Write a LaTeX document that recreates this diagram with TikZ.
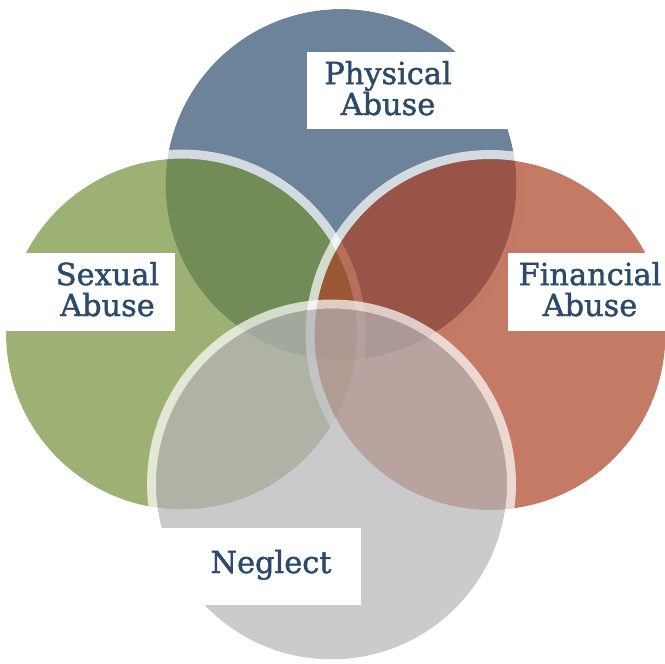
\documentclass[tikz,border=0pt]{standalone}
\usepackage{fontspec}
\setmainfont{DejaVu Serif}[BoldFont={DejaVu Serif}, BoldFeatures={FakeBold=1.4}]
\definecolor{cblue}{HTML}{2E4E6D}
\definecolor{cgreen}{HTML}{75903B}
\definecolor{cred}{HTML}{AB4124}
\definecolor{cgray}{HTML}{B5B5B9}
\definecolor{lblblue}{HTML}{2C4A6A}
\begin{document}
\begin{tikzpicture}[x=0.02cm,y=-0.02cm,
  venn/.style={circle, minimum size=7.02cm, inner sep=0pt, outer sep=0pt,
    fill opacity=0.7},
  ring/.style={draw=white, draw opacity=0.7, line width=0.18cm},
  lblbox/.style={fill=white},
  lbl/.style={text=lblblue, font=\fontsize{17.3pt}{17.6pt}\selectfont\bfseries,
    align=center, inner sep=0pt, anchor=base}]
\useasboundingbox (0,0) rectangle (665,663);
% circles, each with its light rim
\node[venn, fill=cblue]  (phys)    at (341,184.5) {};
\draw[ring] (phys.center) circle[radius=3.6cm];
\node[venn, fill=cgreen] (sexual)  at (181.5,334) {};
\draw[ring] (sexual.center) circle[radius=3.6cm];
\node[venn, fill=cred]   (finance) at (490,334.5) {};
\draw[ring] (finance.center) circle[radius=3.6cm];
\node[venn, fill=cgray]  (neglect) at (331.5,484) {};
\draw[ring] (neglect.center) circle[radius=3.6cm];
% label boxes
\fill[lblbox] (307,52) rectangle (520,129);
\fill[lblbox] (0,253) rectangle (175,331);
\fill[lblbox] (508,253) rectangle (665,331);
\fill[lblbox] (140,528) rectangle (361,605);
% labels (base = last line)
\node[lbl] (tphys)    at (388,115)   {Physical\\Abuse};
\node[lbl] (tsexual)  at (107.5,316) {Sexual\\Abuse};
\node[lbl] (tfinance) at (590,316)   {Financial\\Abuse};
\node[lbl] (tneglect) at (271,573)   {Neglect};
\end{tikzpicture}
\end{document}
